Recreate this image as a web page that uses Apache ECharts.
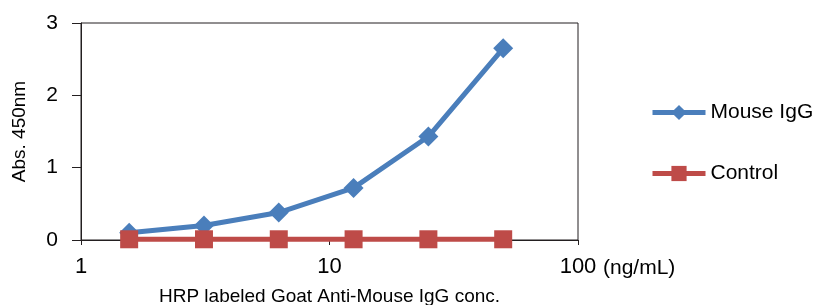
<!DOCTYPE html>
<html>
<head>
<meta charset="utf-8">
<script src="https://cdn.jsdelivr.net/npm/echarts@6/dist/echarts.min.js"></script>
<style>
html,body{margin:0;padding:0;background:#fff;overflow:hidden;}
#chart{width:824px;height:305px;}
</style>
</head>
<body>
<div id="chart"></div>
<script>
var concentrations = [1.5625, 3.125, 6.25, 12.5, 25, 50];
var mouseIgG = [0.10, 0.20, 0.38, 0.72, 1.43, 2.65];
var control = [0.01, 0.01, 0.01, 0.01, 0.01, 0.01];
var seriesNames = ['Mouse IgG', 'Control'];
var xTitle = 'HRP labeled Goat Anti-Mouse IgG conc.';
var yTitle = 'Abs. 450nm';
var xUnit = '(ng/mL)';

function pairs(xs, ys) { return xs.map(function (x, i) { return [x, ys[i]]; }); }

var FONT = '"Liberation Sans", Arial, sans-serif';
var chart = echarts.init(document.getElementById('chart'), null, { renderer: 'canvas', width: 824, height: 305 });
chart.setOption({
  animation: false,
  textStyle: { fontFamily: FONT, color: '#000' },
  grid: { left: 81, top: 23, width: 497, height: 217, outerBoundsMode: 'none', containLabel: false,
          show: true, borderColor: '#231f20', borderWidth: 1, backgroundColor: 'transparent' },
  legend: {
    orient: 'vertical', left: 645, top: 97, itemGap: 40,
    itemWidth: 53, itemHeight: 19,
    lineStyle: { width: 5 },
    textStyle: { fontFamily: FONT, fontSize: 21, color: '#000' },
    data: seriesNames
  },
  xAxis: {
    type: 'log', logBase: 10, min: 1, max: 100,
    name: xTitle, nameLocation: 'middle', nameGap: 47,
    nameTextStyle: { fontFamily: FONT, fontSize: 19, color: '#000', verticalAlign: 'top' },
    axisLine: { lineStyle: { color: '#231f20', width: 1 } },
    axisTick: { show: true, length: 5, lineStyle: { color: '#231f20' } },
    minorTick: { show: false },
    splitLine: { show: false },
    axisLabel: { fontFamily: FONT, fontSize: 22, color: '#000', margin: 16 }
  },
  yAxis: {
    type: 'value', min: 0, max: 3, interval: 1,
    name: yTitle, nameLocation: 'middle', nameGap: 52, nameRotate: 90,
    nameTextStyle: { fontFamily: FONT, fontSize: 19, color: '#000' },
    axisLine: { show: true, lineStyle: { color: '#231f20', width: 1 } },
    axisTick: { show: true, length: 9, lineStyle: { color: '#231f20' } },
    splitLine: { show: false },
    axisLabel: { fontFamily: FONT, fontSize: 21, color: '#000', margin: 23 }
  },
  graphic: [{
    type: 'text', left: 603, top: 258,
    style: { text: xUnit, font: '21px ' + FONT, fill: '#000' }
  }],
  series: [
    {
      name: seriesNames[0], type: 'line', data: pairs(concentrations, mouseIgG),
      symbol: 'diamond', symbolSize: 20,
      lineStyle: { color: '#4A7EBB', width: 5 },
      itemStyle: { color: '#4A7EBB' }
    },
    {
      name: seriesNames[1], type: 'line', data: pairs(concentrations, control),
      symbol: 'rect', symbolSize: 18,
      lineStyle: { color: '#BE4B48', width: 5 },
      itemStyle: { color: '#BE4B48' }
    }
  ]
});
</script>
</body>
</html>
